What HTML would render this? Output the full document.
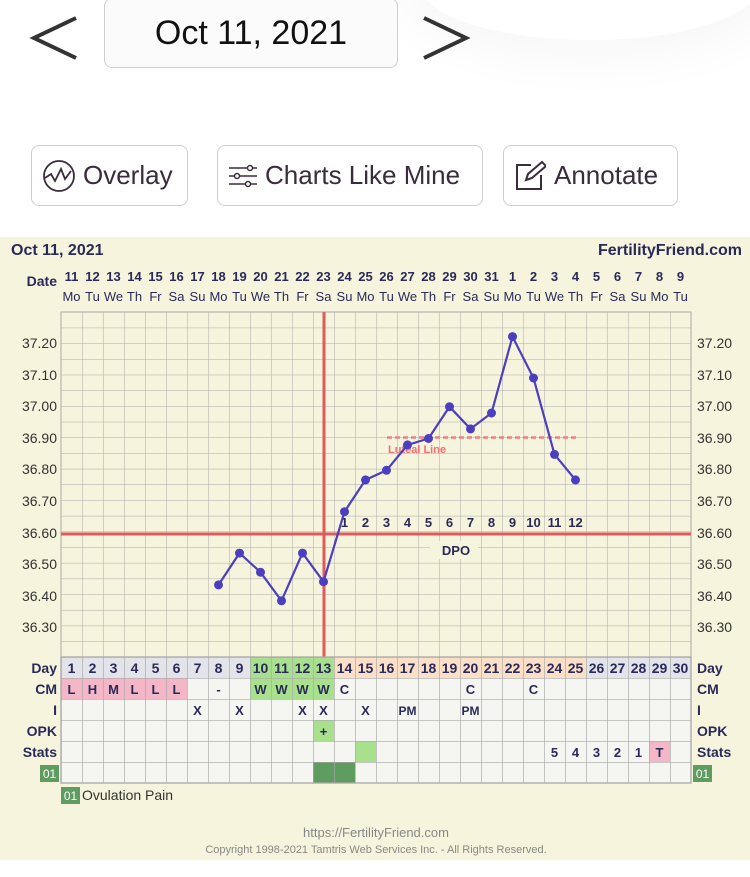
<!DOCTYPE html><html><head><meta charset="utf-8"><style>
body{margin:0;width:750px;height:877px;overflow:hidden;background:#fff;font-family:"Liberation Sans",sans-serif}
.btn{position:absolute;border:1.5px solid #cfcfcf;border-radius:8px;background:#fff;color:#3a2c3c;font-size:26px;display:flex;align-items:center;box-sizing:border-box}
</style></head><body>
<div style="position:absolute;left:420px;top:-70px;width:340px;height:110px;border-radius:50%;box-shadow:0 0 50px 20px rgba(0,0,0,0.035)"></div>
<svg style="position:absolute;left:28px;top:14px" width="52" height="48"><polyline points="48,4 6,24 48,44" fill="none" stroke="#333" stroke-width="4"/></svg>
<div class="btn" style="left:104px;top:-2px;width:294px;height:70px;justify-content:center;font-size:34px;color:#111;background:#fbfbfb">Oct 11, 2021</div>
<svg style="position:absolute;left:420px;top:14px" width="52" height="48"><polyline points="4,4 46,24 4,44" fill="none" stroke="#333" stroke-width="4"/></svg>
<div class="btn" style="left:31px;top:145px;width:157px;height:61px;padding-left:10px"><svg width="34" height="34" style="margin-right:7px"><circle cx="17" cy="17" r="15" fill="none" stroke="#3a2c3c" stroke-width="1.8"/><polyline points="3,19 9,15 13,22 19,10 23,20 29,12" fill="none" stroke="#3a2c3c" stroke-width="1.8"/></svg>Overlay</div>
<div class="btn" style="left:217px;top:145px;width:266px;height:61px;padding-left:10px"><svg width="30" height="24" style="margin-right:7px" stroke="#3a2c3c" stroke-width="1.5" fill="none"><line x1="1" y1="4" x2="29" y2="4"/><line x1="1" y1="12" x2="29" y2="12"/><line x1="1" y1="20" x2="29" y2="20"/><circle cx="22" cy="4" r="2.5" fill="#fff"/><circle cx="9" cy="12" r="2.5" fill="#fff"/><circle cx="20" cy="20" r="2.5" fill="#fff"/></svg>Charts Like Mine</div>
<div class="btn" style="left:503px;top:145px;width:175px;height:61px;padding-left:10px"><svg width="32" height="32" style="margin-right:8px" stroke="#3a2c3c" stroke-width="2" fill="none"><path d="M17 5H3v24h24V15"/><path d="M12 20l2-6 14-12 4 4-14 12z"/></svg>Annotate</div>

<svg style="position:absolute;left:0;top:237px" width="750" height="623" viewBox="0 237 750 623" font-family="Liberation Sans, DejaVu Sans, sans-serif">
<defs><pattern id="g" x="61" y="312" width="21" height="15.682" patternUnits="userSpaceOnUse"><path d="M0 0V15.682M0 0H21" stroke="#aaa" stroke-width="1" fill="none"/></pattern>
<pattern id="t" x="61" y="657" width="21" height="21" patternUnits="userSpaceOnUse"><path d="M0 0V21M0 0H21" stroke="#a8a8a8" stroke-width="1.3" fill="none"/></pattern></defs>
<rect x="0" y="237" width="750" height="623" fill="#f6f4dc"/>
<text x="11" y="255" font-size="16" font-weight="bold" fill="#2a2a5a">Oct 11, 2021</text>
<text x="742" y="255" font-size="16" font-weight="bold" fill="#2a2a5a" text-anchor="end">FertilityFriend.com</text>
<text x="57" y="286" font-size="14" font-weight="bold" fill="#2a2a5a" text-anchor="end">Date</text>
<g font-size="13" font-weight="bold" fill="#2a2a5a" text-anchor="middle">
<text x="71.5" y="281">11</text><text x="92.5" y="281">12</text><text x="113.5" y="281">13</text><text x="134.5" y="281">14</text><text x="155.5" y="281">15</text><text x="176.5" y="281">16</text><text x="197.5" y="281">17</text><text x="218.5" y="281">18</text><text x="239.5" y="281">19</text><text x="260.5" y="281">20</text><text x="281.5" y="281">21</text><text x="302.5" y="281">22</text><text x="323.5" y="281">23</text><text x="344.5" y="281">24</text><text x="365.5" y="281">25</text><text x="386.5" y="281">26</text><text x="407.5" y="281">27</text><text x="428.5" y="281">28</text><text x="449.5" y="281">29</text><text x="470.5" y="281">30</text><text x="491.5" y="281">31</text><text x="512.5" y="281">1</text><text x="533.5" y="281">2</text><text x="554.5" y="281">3</text><text x="575.5" y="281">4</text><text x="596.5" y="281">5</text><text x="617.5" y="281">6</text><text x="638.5" y="281">7</text><text x="659.5" y="281">8</text><text x="680.5" y="281">9</text>
</g>
<g font-size="13" fill="#2a2a5a" text-anchor="middle">
<text x="71.5" y="301">Mo</text><text x="92.5" y="301">Tu</text><text x="113.5" y="301">We</text><text x="134.5" y="301">Th</text><text x="155.5" y="301">Fr</text><text x="176.5" y="301">Sa</text><text x="197.5" y="301">Su</text><text x="218.5" y="301">Mo</text><text x="239.5" y="301">Tu</text><text x="260.5" y="301">We</text><text x="281.5" y="301">Th</text><text x="302.5" y="301">Fr</text><text x="323.5" y="301">Sa</text><text x="344.5" y="301">Su</text><text x="365.5" y="301">Mo</text><text x="386.5" y="301">Tu</text><text x="407.5" y="301">We</text><text x="428.5" y="301">Th</text><text x="449.5" y="301">Fr</text><text x="470.5" y="301">Sa</text><text x="491.5" y="301">Su</text><text x="512.5" y="301">Mo</text><text x="533.5" y="301">Tu</text><text x="554.5" y="301">We</text><text x="575.5" y="301">Th</text><text x="596.5" y="301">Fr</text><text x="617.5" y="301">Sa</text><text x="638.5" y="301">Su</text><text x="659.5" y="301">Mo</text><text x="680.5" y="301">Tu</text>
</g>
<rect x="61" y="312" width="630" height="345" fill="url(#g)"/>
<rect x="61" y="312" width="630" height="345" fill="none" stroke="#aaa"/>
<g font-size="14" fill="#333">
<g text-anchor="end"><text x="57" y="348">37.20</text><text x="57" y="380">37.10</text><text x="57" y="411">37.00</text><text x="57" y="443">36.90</text><text x="57" y="474">36.80</text><text x="57" y="506">36.70</text><text x="57" y="538">36.60</text><text x="57" y="569">36.50</text><text x="57" y="601">36.40</text><text x="57" y="632">36.30</text></g>
<g><text x="697" y="348">37.20</text><text x="697" y="380">37.10</text><text x="697" y="411">37.00</text><text x="697" y="443">36.90</text><text x="697" y="474">36.80</text><text x="697" y="506">36.70</text><text x="697" y="538">36.60</text><text x="697" y="569">36.50</text><text x="697" y="601">36.40</text><text x="697" y="632">36.30</text></g>
</g>
<line x1="324" y1="312" x2="324" y2="657" stroke="#e05a5a" stroke-width="3"/>
<line x1="61" y1="534" x2="691" y2="534" stroke="#e05a5a" stroke-width="3"/>
<line x1="387" y1="437.5" x2="578" y2="437.5" stroke="#f08080" stroke-width="2.5" stroke-dasharray="5,3"/>
<text x="388" y="453" font-size="11" font-weight="bold" fill="#f07070">Luteal Line</text>
<rect x="430" y="541" width="48" height="18" fill="#f6f4dc"/>
<text x="456" y="555" font-size="13" font-weight="bold" fill="#2a2a5a" text-anchor="middle">DPO</text>
<g font-size="13" font-weight="bold" fill="#2a2a5a" text-anchor="middle">
<text x="344.5" y="527">1</text><text x="365.5" y="527">2</text><text x="386.5" y="527">3</text><text x="407.5" y="527">4</text><text x="428.5" y="527">5</text><text x="449.5" y="527">6</text><text x="470.5" y="527">7</text><text x="491.5" y="527">8</text><text x="512.5" y="527">9</text><text x="533.5" y="527">10</text><text x="554.5" y="527">11</text><text x="575.5" y="527">12</text>
</g>
<polyline fill="none" stroke="#4b3fc0" stroke-width="2.2" points="218.5,584.9 239.5,553.1 260.5,572.2 281.5,600.8 302.5,553.1 323.5,581.7 344.5,511.7 365.5,479.9 386.5,470.3 407.5,444.9 428.5,438.5 449.5,406.7 470.5,428.9 491.5,413 512.5,336.6 533.5,378 554.5,454.4 575.5,479.9"/>
<g fill="#4b3fc0"><circle cx="218.5" cy="584.9" r="4.5"/><circle cx="239.5" cy="553.1" r="4.5"/><circle cx="260.5" cy="572.2" r="4.5"/><circle cx="281.5" cy="600.8" r="4.5"/><circle cx="302.5" cy="553.1" r="4.5"/><circle cx="323.5" cy="581.7" r="4.5"/><circle cx="344.5" cy="511.7" r="4.5"/><circle cx="365.5" cy="479.9" r="4.5"/><circle cx="386.5" cy="470.3" r="4.5"/><circle cx="407.5" cy="444.9" r="4.5"/><circle cx="428.5" cy="438.5" r="4.5"/><circle cx="449.5" cy="406.7" r="4.5"/><circle cx="470.5" cy="428.9" r="4.5"/><circle cx="491.5" cy="413" r="4.5"/><circle cx="512.5" cy="336.6" r="4.5"/><circle cx="533.5" cy="378" r="4.5"/><circle cx="554.5" cy="454.4" r="4.5"/><circle cx="575.5" cy="479.9" r="4.5"/></g>

<rect x="61" y="657" width="630" height="126" fill="#f5f5f2"/>
<rect x="61" y="657" width="189" height="21" fill="#e3e3ea"/>
<rect x="250" y="657" width="84" height="21" fill="#a8e08e"/>
<rect x="334" y="657" width="252" height="21" fill="#fbdfc6"/>
<rect x="586" y="657" width="105" height="21" fill="#e3e3ea"/>
<rect x="61" y="678" width="126" height="21" fill="#f3b7c8"/>
<rect x="250" y="678" width="84" height="21" fill="#a8e08e"/>
<rect x="313" y="720" width="21" height="21" fill="#a8e08e"/>
<rect x="355" y="741" width="21" height="21" fill="#a8e08e"/>
<rect x="649" y="741" width="21" height="21" fill="#f3b7c8"/>
<rect x="313" y="762" width="42" height="21" fill="#5f9c5f"/>
<rect x="61" y="657" width="630" height="126" fill="url(#t)"/>
<rect x="61" y="657" width="630" height="126" fill="none" stroke="#a8a8a8" stroke-width="1.3"/>
<g font-size="14" font-weight="bold" fill="#2a2a5a">
<g text-anchor="end"><text x="57" y="673">Day</text><text x="57" y="694">CM</text><text x="57" y="715">I</text><text x="57" y="736">OPK</text><text x="57" y="757">Stats</text></g>
<text x="697" y="673">Day</text><text x="697" y="694">CM</text><text x="697" y="715">I</text><text x="697" y="736">OPK</text><text x="697" y="757">Stats</text>
<g text-anchor="middle" font-size="14">
<text x="71.5" y="673">1</text><text x="92.5" y="673">2</text><text x="113.5" y="673">3</text><text x="134.5" y="673">4</text><text x="155.5" y="673">5</text><text x="176.5" y="673">6</text><text x="197.5" y="673">7</text><text x="218.5" y="673">8</text><text x="239.5" y="673">9</text><text x="260.5" y="673">10</text><text x="281.5" y="673">11</text><text x="302.5" y="673">12</text><text x="323.5" y="673">13</text><text x="344.5" y="673">14</text><text x="365.5" y="673">15</text><text x="386.5" y="673">16</text><text x="407.5" y="673">17</text><text x="428.5" y="673">18</text><text x="449.5" y="673">19</text><text x="470.5" y="673">20</text><text x="491.5" y="673">21</text><text x="512.5" y="673">22</text><text x="533.5" y="673">23</text><text x="554.5" y="673">24</text><text x="575.5" y="673">25</text><text x="596.5" y="673">26</text><text x="617.5" y="673">27</text><text x="638.5" y="673">28</text><text x="659.5" y="673">29</text><text x="680.5" y="673">30</text>
</g>
<g text-anchor="middle" font-size="13">
<text x="71.5" y="694">L</text><text x="92.5" y="694">H</text><text x="113.5" y="694">M</text><text x="134.5" y="694">L</text><text x="155.5" y="694">L</text><text x="176.5" y="694">L</text><text x="218.5" y="694">-</text><text x="260.5" y="694">W</text><text x="281.5" y="694">W</text><text x="302.5" y="694">W</text><text x="323.5" y="694">W</text><text x="344.5" y="694">C</text><text x="470.5" y="694">C</text><text x="533.5" y="694">C</text>
<text x="197.5" y="715">X</text><text x="239.5" y="715">X</text><text x="302.5" y="715">X</text><text x="323.5" y="715">X</text><text x="365.5" y="715">X</text><text x="407.5" y="715" font-size="12">PM</text><text x="470.5" y="715" font-size="12">PM</text>
<text x="323.5" y="736">+</text>
<text x="554.5" y="757">5</text><text x="575.5" y="757">4</text><text x="596.5" y="757">3</text><text x="617.5" y="757">2</text><text x="638.5" y="757">1</text><text x="659.5" y="757">T</text>
</g></g>
<rect x="40" y="765" width="19" height="17" fill="#5f9c5f"/><text x="49.5" y="778" font-size="12" fill="#fff" text-anchor="middle">01</text>
<rect x="693" y="765" width="19" height="17" fill="#5f9c5f"/><text x="702.5" y="778" font-size="12" fill="#fff" text-anchor="middle">01</text>
<rect x="61" y="787" width="19" height="17" fill="#5f9c5f"/><text x="70.5" y="800" font-size="12" fill="#fff" text-anchor="middle">01</text>
<text x="82" y="800" font-size="14" fill="#333">Ovulation Pain</text>
<text x="376" y="837" font-size="13" fill="#888" text-anchor="middle">https://FertilityFriend.com</text>
<text x="376" y="853" font-size="11" fill="#888" text-anchor="middle">Copyright 1998-2021 Tamtris Web Services Inc. - All Rights Reserved.</text>
</svg>
</body></html>
